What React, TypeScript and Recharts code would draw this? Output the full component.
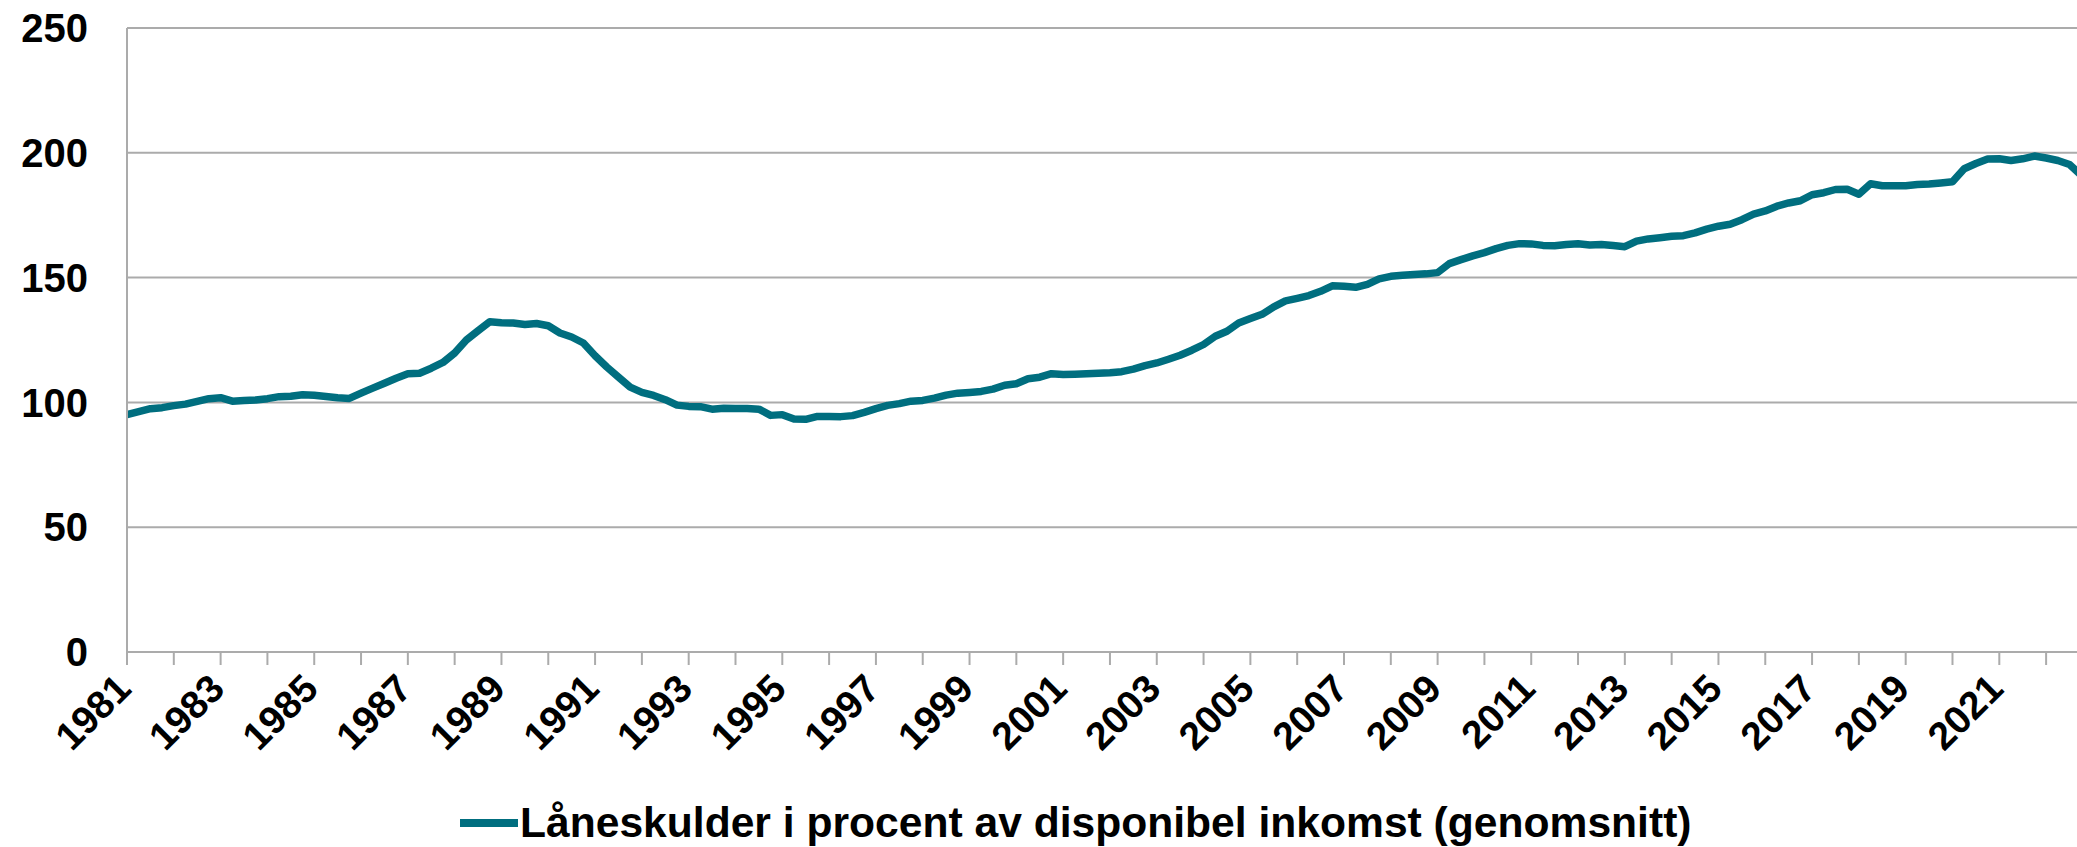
import { LineChart, Line, XAxis, YAxis, CartesianGrid, Legend } from "recharts"

const START_YEAR = 1981

// Låneskulder i procent av disponibel inkomst, kvartalsvis 1981K1–2022K4
const debtRatio = [
  95.1, 96.3, 97.5, 97.9, // 1981
  98.7, 99.3, 100.4, 101.5, // 1982
  101.9, 100.5, 100.8, 101.0, // 1983
  101.5, 102.3, 102.5, 103.1, // 1984
  102.9, 102.4, 101.9, 101.6, // 1985
  103.7, 105.7, 107.7, 109.7, // 1986
  111.5, 111.7, 113.7, 116.0, // 1987
  119.8, 125.0, 128.7, 132.3, // 1988
  131.9, 131.8, 131.2, 131.6, // 1989
  130.7, 127.8, 126.2, 123.8, // 1990
  118.7, 114.2, 110.1, 106.1, // 1991
  104.0, 102.8, 101.1, 98.9, // 1992
  98.4, 98.3, 97.3, 97.7, // 1993
  97.6, 97.6, 97.3, 94.8, // 1994
  95.1, 93.3, 93.2, 94.4, // 1995
  94.4, 94.3, 94.7, 96.0, // 1996
  97.5, 98.8, 99.5, 100.5, // 1997
  100.8, 101.7, 102.9, 103.7, // 1998
  104.0, 104.4, 105.3, 106.9, // 1999
  107.5, 109.5, 110.1, 111.5, // 2000
  111.2, 111.3, 111.5, 111.7, // 2001
  111.9, 112.3, 113.3, 114.7, // 2002
  115.8, 117.3, 118.9, 120.9, // 2003
  123.2, 126.5, 128.5, 131.8, // 2004
  133.6, 135.3, 138.3, 140.7, // 2005
  141.7, 142.8, 144.5, 146.7, // 2006
  146.5, 146.1, 147.3, 149.5, // 2007
  150.5, 150.9, 151.2, 151.5, // 2008
  152.0, 155.6, 157.2, 158.7, // 2009
  160.0, 161.6, 162.9, 163.6, // 2010
  163.5, 162.9, 162.8, 163.3, // 2011
  163.6, 163.1, 163.3, 162.9, // 2012
  162.4, 164.6, 165.5, 166.0, // 2013
  166.6, 166.8, 167.9, 169.4, // 2014
  170.6, 171.4, 173.2, 175.4, // 2015
  176.7, 178.6, 179.9, 180.8, // 2016
  183.2, 184.0, 185.3, 185.4, // 2017
  183.4, 187.6, 186.8, 186.8, // 2018
  186.8, 187.3, 187.5, 187.9, // 2019
  188.4, 193.6, 195.7, 197.5, // 2020
  197.6, 196.9, 197.6, 198.7, // 2021
  197.9, 196.9, 195.3, 191.0, // 2022
]

const yearTicks = Array.from({ length: 42 }, (_, i) => START_YEAR + i)
const xTickLabels = [
  "1981", "1983", "1985", "1987", "1989", "1991", "1993", "1995", "1997", "1999", "2001",
  "2003", "2005", "2007", "2009", "2011", "2013", "2015", "2017", "2019", "2021",
]
const yTicks = [0, 50, 100, 150, 200, 250]
const seriesName = "Låneskulder i procent av disponibel inkomst (genomsnitt)"

const data = debtRatio.map((v, i) => ({ t: START_YEAR + i / 4, value: v }))

const FONT = '"Liberation Sans", Arial, Helvetica, sans-serif'
const TEAL = "#006E7F"
const GRID = "#ABABAB"

function XTick({ x, y, payload }: any) {
  const label = String(payload.value)
  if (!xTickLabels.includes(label)) return null
  const ax = x + 6
  const ay = y + 26
  return (
    <text
      x={ax}
      y={ay}
      transform={`rotate(-45, ${ax}, ${ay})`}
      textAnchor="end"
      fill="#000"
      fontSize={39}
      fontWeight={700}
      fontFamily={FONT}
    >
      {label}
    </text>
  )
}

function LegendBox() {
  return (
    <div style={{ position: "relative", width: 2077, height: 50 }}>
      <div style={{ position: "absolute", left: 460, top: 22, width: 58, height: 8, background: TEAL }} />
      <div
        style={{
          position: "absolute",
          left: 520,
          top: 4,
          fontFamily: FONT,
          fontWeight: 700,
          fontSize: 42.6,
          lineHeight: "42px",
          color: "#000",
          whiteSpace: "nowrap",
        }}
      >
        {seriesName}
      </div>
    </div>
  )
}

export default function App() {
  return (
    <div
      style={{
        position: "absolute",
        left: 0,
        top: 0,
        width: 2077,
        height: 847,
        overflow: "hidden",
        background: "#fff",
      }}
    >
      <LineChart width={2077} height={847} data={data} margin={{ top: 28, right: 0, bottom: 0, left: 0 }}>
        <CartesianGrid vertical={false} stroke={GRID} strokeWidth={2} />
        <XAxis
          dataKey="t"
          type="number"
          domain={[START_YEAR, 2022.66]}
          allowDataOverflow
          ticks={yearTicks}
          interval={0}
          height={145}
          tickSize={13}
          tickMargin={0}
          axisLine={{ stroke: GRID, strokeWidth: 2 }}
          tickLine={{ stroke: GRID, strokeWidth: 2 }}
          tick={<XTick />}
        />
        <YAxis
          domain={[0, 250]}
          ticks={yTicks}
          width={127}
          tickLine={false}
          tickSize={0}
          tickMargin={39}
          axisLine={{ stroke: GRID, strokeWidth: 2 }}
          tick={{ fill: "#000", fontSize: 40, fontWeight: 700, fontFamily: FONT }}
        />
        <Legend
          verticalAlign="bottom"
          height={50}
          wrapperStyle={{ left: 0, bottom: 0, width: 2077, height: 50 }}
          content={() => <LegendBox />}
        />
        <Line
          type="linear"
          dataKey="value"
          name={seriesName}
          stroke={TEAL}
          strokeWidth={7.5}
          strokeLinejoin="round"
          dot={false}
          activeDot={false}
          isAnimationActive={false}
        />
      </LineChart>
    </div>
  )
}
